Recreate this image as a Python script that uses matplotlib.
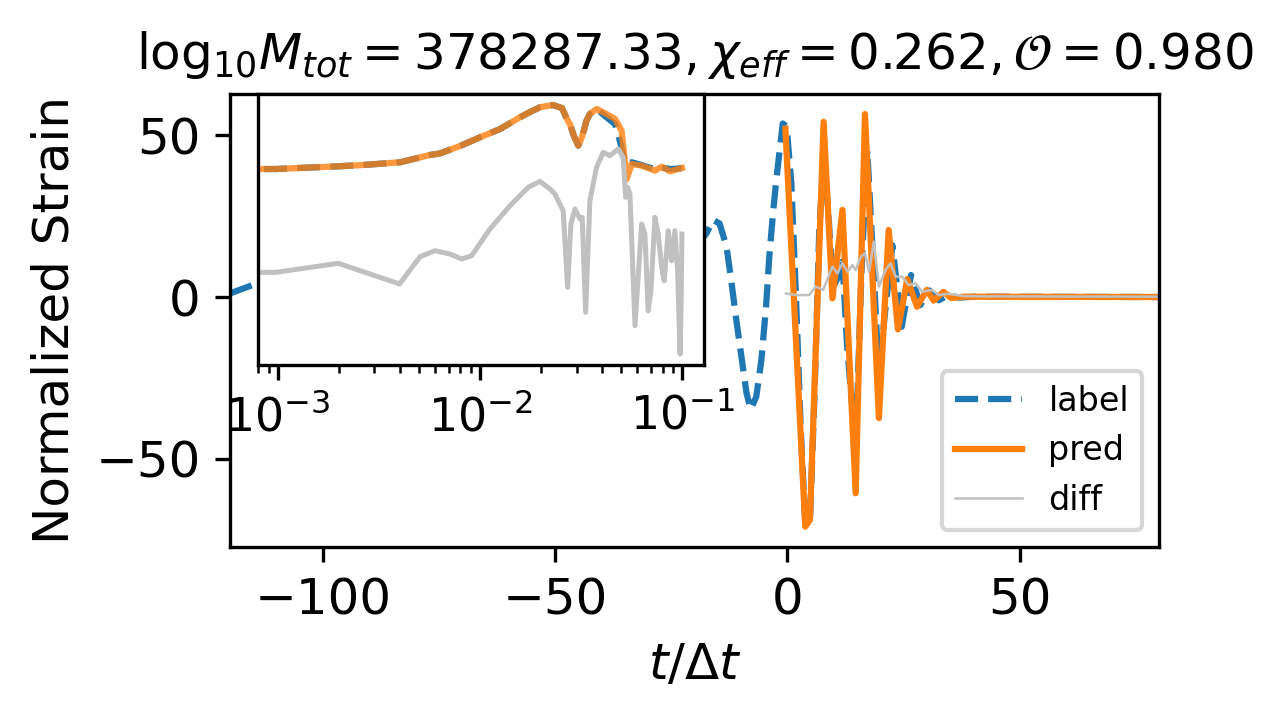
import matplotlib
matplotlib.use("Agg")
import matplotlib.pyplot as plt

# ---------------- main panel data ----------------
label_t = [-120, -114.2, -110, -105, -100, -95, -90, -85, -80, -75, -70, -65, -60,
           -55, -50, -45, -40, -35, -30, -25, -20, -17.4, -16, -14.6, -13.1, -12.1,
           -11, -9.9, -8.8, -7.9, -6.7, -5.6, -4.6, -3.9, -3.1, -2.4, -1.0, -0.15,
           0.85, 1.85, 2.85, 3.85, 4.85, 5.85, 6.85, 7.85, 8.85, 9.85, 10.85, 11.85,
           12.85, 14.7, 16.0, 17.2, 18.5, 19.7, 21.0, 22.6, 24.6, 26.6, 28.6, 30.6,
           32.6, 34.6, 37, 40, 80]
label_v = [1.1, 4.2, 6, 3, -5, -6, 2, 8, 3, -8, -5, 8, 9,
           -8, -11, 7, 13, -5, -16, -2, 15, 19.7, 23.8, 22.7, 15.5, 5.2,
           -7.1, -18.4, -29.7, -34.7, -30.8, -19.4, -3.0, 12.4, 25.8, 36.1, 53.6, 52.6,
           35, 0, -40, -70, -69, -30, 20, 45, 25, 3, 6, 11,
           -15, -47, 10, 45.4, 10, -24.6, -5, 16, -9.2, 6.8, -2.5, 2.0,
           -1.0, 0.6, -0.2, 0.1, 0.0]

pred_t = [-0.43, 3.85, 4.85, 7.8, 9.7, 11.85, 14.7, 16.7, 19.7, 21.8, 23.8, 25.8,
          27.9, 30.0, 31.5, 33.6, 35.3, 38, 80]
pred_v = [52.0, -70.9, -68.8, 54.1, -0.4, 26.9, -60.6, 56.5, -37.4, 20.7, -10.0, 5.5,
          -3.0, 2.2, -1.1, 1.6, -0.3, 0.1, 0.0]

diff_t = [-0.3, 1.9, 4.7, 6.1, 7.7, 9.7, 10.8, 11.8, 13.0, 14.0, 14.7, 15.8, 16.7,
          17.6, 18.6, 19.7, 21.1, 22.2, 23.3, 24.7, 26.1, 27.6, 29.0, 31.1, 32.6,
          34.7, 38.0, 42.0, 80]
diff_v = [1.1, 0.6, 0.6, 3.2, 2.2, 9.4, 7.3, 10.4, 7.8, 9.9, 8.3, 12.4, 13.5,
          7.8, 17.1, 3.2, 8.3, 10.4, 6.3, 6.3, 3.7, 4.2, 1.6, 2.2, 0.6,
          1.0, 0.3, 0.2, 0.1]

# ---------------- inset (spectra) data ----------------
pred_f = [0.0, 0.000977, 0.00199, 0.00264, 0.00402, 0.00565, 0.00634, 0.00796, 0.0100,
          0.01256, 0.01575, 0.01765, 0.01977, 0.0229, 0.0254, 0.02679, 0.0278, 0.02911,
          0.0306, 0.0319, 0.0336, 0.0349, 0.0377, 0.0422, 0.0465, 0.0501,
          0.0531, 0.0562, 0.0629, 0.0678, 0.0732, 0.0791, 0.0869, 0.0955, 0.0996]
pred_a = [0.781, 0.781, 0.857, 0.895, 0.982, 1.258, 1.33, 1.708, 2.30,
          3.04, 4.53, 5.42, 6.37, 6.88, 6.21, 4.38, 3.60, 2.40,
          1.73, 2.32, 4.04, 5.07, 6.01, 5.07, 4.28, 2.87,
          0.556, 0.927, 0.875, 0.809, 0.738, 0.845, 0.723, 0.781, 0.809]

label_f = [0.0, 0.000977, 0.00199, 0.00264, 0.00402, 0.00565, 0.00634, 0.00796, 0.0100,
           0.01256, 0.01575, 0.01765, 0.01977, 0.0229, 0.0254, 0.02679, 0.0278, 0.02911,
           0.0306, 0.0319, 0.0336, 0.0349, 0.0377, 0.0422, 0.0465, 0.0501,
           0.0521, 0.0562, 0.0629, 0.0678, 0.0732, 0.0791, 0.0869, 0.0955, 0.0996]
label_a = [0.781, 0.781, 0.857, 0.895, 0.982, 1.258, 1.33, 1.708, 2.30,
           3.04, 4.53, 5.42, 6.37, 6.88, 6.21, 4.38, 3.60, 2.40,
           1.73, 2.32, 4.04, 5.07, 6.01, 4.53, 3.60, 1.63,
           0.927, 0.982, 0.895, 0.830, 0.781, 0.820, 0.781, 0.795, 0.809]

diff_f = [0.0, 0.000977, 0.00199, 0.00400, 0.00505, 0.00598, 0.00710, 0.00811, 0.00908,
          0.01119, 0.01406, 0.01730, 0.01977, 0.02215, 0.02344, 0.02576, 0.02710,
          0.02812, 0.02944, 0.03119, 0.03199, 0.03326, 0.03491, 0.03767, 0.04064,
          0.04385, 0.04818, 0.05101, 0.05244, 0.05367, 0.05508, 0.05834, 0.06295,
          0.06534, 0.06781, 0.06993, 0.07321, 0.07598, 0.07900, 0.08139, 0.08517,
          0.08854, 0.09190, 0.09476, 0.0975, 0.0985, 0.0996]
diff_a = [0.0233, 0.0233, 0.0317, 0.0157, 0.0397, 0.0487, 0.0435, 0.0367, 0.0410,
          0.1016, 0.2244, 0.420, 0.514, 0.396, 0.334, 0.189, 0.0140,
          0.1205, 0.201, 0.143, 0.151, 0.0060, 0.266, 0.828, 1.377,
          1.227, 1.542, 1.164, 0.298, 0.420, 0.334, 0.0038, 0.1205,
          0.0859, 0.0063, 0.0125, 0.151, 0.0859, 0.0277, 0.0175, 0.0961,
          0.0346, 0.0961, 0.0247, 0.00145, 0.0063, 0.0859]

title = r"$\mathrm{log}_{10}M_{tot}=378287.33, \chi_{eff}=0.262, \mathcal{O}=0.980$"

plt.rcParams['font.size'] = 12

fig = plt.figure(figsize=(1285 / 300, 719 / 300), dpi=300)
ax = fig.add_axes([230 / 1285, 1 - 547 / 719, (1159 - 230) / 1285, (547 - 94) / 719])

ax.plot(label_t, label_v, '--', color='C0', lw=1.5, label='label')
ax.plot(pred_t, pred_v, '-', color='C1', lw=1.5, label='pred')
ax.plot(diff_t, diff_v, '-', color='silver', lw=0.6, label='diff')
ax.set_xlim(-120, 80)
ax.set_ylim(-77.2, 62.7)
ax.set_xticks([-100, -50, 0, 50])
ax.set_yticks([-50, 0, 50])
ax.set_xlabel(r"$t/\Delta t$")
ax.set_ylabel("Normalized Strain")
ax.set_title(title, fontsize=12)
ax.legend(loc='lower right', fontsize=8)

ins = fig.add_axes([258 / 1285, 1 - 365 / 719, (704 - 258) / 1285, (365 - 94) / 719])
ins.plot(label_f, label_a, '--', color='C0', lw=1.5)
ins.plot(pred_f, pred_a, '-', color='C1', lw=1.5, alpha=0.8)
ins.plot(diff_f, diff_a, '-', color='silver', lw=1.2)
ins.set_xscale('log')
ins.set_yscale('log')
ins.set_xlim(7.98e-4, 0.128)
ins.set_ylim(1e-3, 1e1)
ins.set_yticks([])
ins.set_yticks([], minor=True)
ins.tick_params(axis='x', labelsize=11)

fig.savefig("out.png", dpi=300)
